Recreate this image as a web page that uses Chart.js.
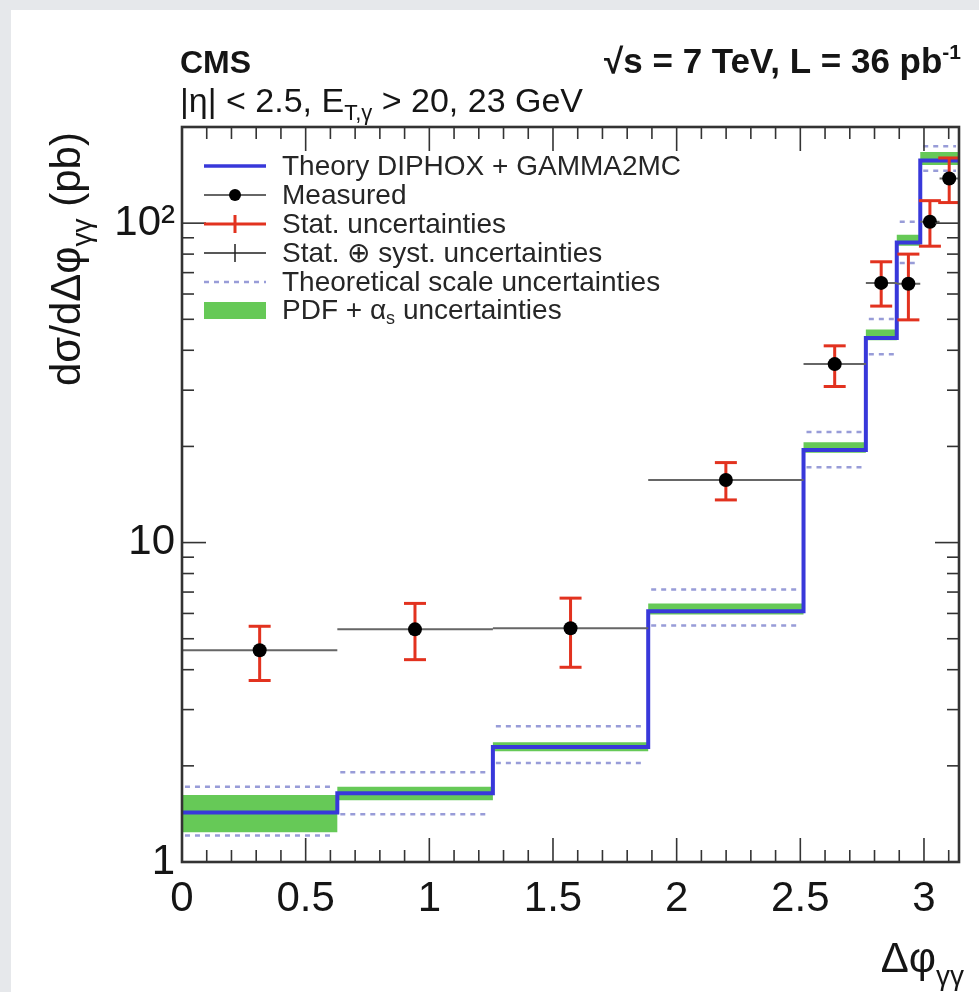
<!DOCTYPE html>
<html><head><meta charset="utf-8">
<script src="https://cdn.jsdelivr.net/npm/chart.js@4.4.1/dist/chart.umd.min.js"></script>
<style>html,body{margin:0;padding:0;background:#e6e8eb;overflow:hidden}#wrap{position:absolute;left:0;top:0;width:979px;height:992px}</style>
</head><body><div id="wrap"><canvas id="c"></canvas></div>
<script>
// ---- data ----
const theoryEdges = [0, 0.628, 1.257, 1.885, 2.513, 2.765, 2.890, 2.985, 3.1416];
const theoryValues = [1.43, 1.64, 2.29, 6.1, 19.5, 43.7, 87, 157];
const pdfLow  = [1.24, 1.56, 2.22, 5.95, 19.1, 43.0, 85, 152];
const pdfHigh = [1.62, 1.72, 2.37, 6.45, 20.6, 46.5, 92, 167];
const scaleLow  = [1.21, 1.41, 2.04, 5.5, 17.2, 38.9, 75, 146];
const scaleHigh = [1.72, 1.91, 2.66, 7.13, 22.2, 50.1, 101, 174];

const measEdges   = [0, 0.628, 1.257, 1.885, 2.513, 2.765, 2.890, 2.985, 3.063, 3.1416];
const measCenters = [0.314, 0.942, 1.571, 2.199, 2.639, 2.827, 2.937, 3.024, 3.102];
const measValues  = [4.6, 5.35, 5.39, 15.7, 36.2, 65, 64.6, 101, 138];
const statLow     = [3.7, 4.3, 4.07, 13.6, 30.8, 55, 49.8, 84.7, 116];
const statHigh    = [5.47, 6.45, 6.7, 17.8, 41.3, 75.7, 80, 117.6, 160];

const xTickValues = [0, 0.5, 1, 1.5, 2, 2.5, 3];
const xTickLabels = ['0', '0.5', '1', '1.5', '2', '2.5', '3'];
const yTickValues = [1, 10, 100];
const yTickLabels = ['1', '10', '10²'];

const legendLabels = ['Theory DIPHOX + GAMMA2MC', 'Measured', 'Stat. uncertainties',
  'Stat. \u2295 syst. uncertainties', 'Theoretical scale uncertainties', 'PDF + \u03b1'];

// ---- styles ----
const BLUE = '#3838da', GREEN = '#66c957', RED = '#e2321f', DASH = '#989cd8', GREY = '#666';
const FONT = '"Liberation Sans", Arial, Helvetica, sans-serif';

function stepData(edges, vals) {
  return edges.map((e, i) => ({ x: e, y: vals[Math.min(i, vals.length - 1)] }));
}
function segData(edges, vals, gap) {
  const d = [];
  vals.forEach((v, i) => { d.push({ x: edges[i] + gap, y: v }, { x: edges[i + 1] - gap, y: v }, { x: edges[i + 1], y: null }); });
  return d;
}
function errData() {
  const d = [];
  measCenters.forEach((x, i) => { d.push({ x, y: statLow[i] }, { x, y: statHigh[i] }, { x, y: null }); });
  return d;
}
function hbarData() {
  const d = [];
  measCenters.forEach((x, i) => { d.push({ x: measEdges[i], y: measValues[i] }, { x: measEdges[i + 1], y: measValues[i] }, { x: measEdges[i + 1], y: null }); });
  return d;
}

function rich(ctx, parts, x, y, align) {
  let w = 0;
  parts.forEach(p => { ctx.font = p.font; p.w = ctx.measureText(p.t).width; w += p.w; });
  let cx = align === 'right' ? x - w : x;
  parts.forEach(p => { ctx.font = p.font; ctx.fillText(p.t, cx, y + (p.dy || 0)); cx += p.w; });
}

const deco = {
  id: 'deco',
  beforeDraw(chart) {
    const ctx = chart.ctx;
    ctx.save();
    ctx.fillStyle = '#e6e8eb'; ctx.fillRect(0, 0, chart.width, chart.height);
    ctx.fillStyle = '#ffffff'; ctx.fillRect(11, 10, chart.width - 11, chart.height - 10);
    ctx.restore();
  },
  afterDatasetsDraw(chart) {
    const ctx = chart.ctx, a = chart.chartArea, xs = chart.scales.x, ys = chart.scales.y;
    ctx.save();
    ctx.strokeStyle = '#333'; ctx.lineWidth = 1.6;
    const line = (x1, y1, x2, y2) => { ctx.beginPath(); ctx.moveTo(x1, y1); ctx.lineTo(x2, y2); ctx.stroke(); };
    for (let k = 0; k <= 31; k++) {
      const px = xs.getPixelForValue(k / 10);
      const L = (k % 5 === 0) ? 24 : 12;
      line(px, a.bottom, px, a.bottom - L);
      line(px, a.top, px, a.top + L);
    }
    [1, 10, 100].forEach(dec => {
      for (let m = 1; m <= 9; m++) {
        const v = dec * m;
        if (v > 200) break;
        const py = ys.getPixelForValue(v);
        const L = m === 1 ? 24 : 12;
        line(a.left, py, a.left + L, py);
        line(a.right, py, a.right - L, py);
      }
    });
    ctx.lineWidth = 2.6;
    ctx.strokeRect(a.left, a.top, a.right - a.left, a.bottom - a.top);
    ctx.restore();
  },
  afterDraw(chart) {
    const ctx = chart.ctx;
    ctx.save();
    ctx.fillStyle = '#151515';
    ctx.textBaseline = 'alphabetic';
    // header
    ctx.font = 'bold 32px ' + FONT;
    ctx.fillText('CMS', 180, 73);
    rich(ctx, [{ t: '\u221As = 7 TeV, L = 36 pb', font: 'bold 35px ' + FONT },
               { t: '-1', font: 'bold 21px ' + FONT, dy: -14 }], 961, 73, 'right');
    rich(ctx, [{ t: '|\u03b7| < 2.5, E', font: '34px ' + FONT },
               { t: 'T,\u03b3', font: '22px ' + FONT, dy: 8 },
               { t: ' > 20, 23 GeV', font: '34px ' + FONT }], 180, 112, 'left');
    // y title
    ctx.save();
    ctx.translate(80, 386); ctx.rotate(-Math.PI / 2);
    rich(ctx, [{ t: 'd\u03c3/d\u0394\u03c6', font: '42px ' + FONT },
               { t: '\u03b3\u03b3', font: '28px ' + FONT, dy: 11 },
               { t: ' (pb)', font: '42px ' + FONT }], 0, 0, 'left');
    ctx.restore();
    // x title
    rich(ctx, [{ t: '\u0394\u03c6', font: '42px ' + FONT },
               { t: '\u03b3\u03b3', font: '28px ' + FONT, dy: 13 }], 964, 972, 'right');

    // legend
    const x1 = 204, x2 = 266, xc = 235, tx = 282;
    const rows = [166, 195, 224, 253, 282, 310];
    ctx.lineCap = 'butt';
    ctx.strokeStyle = BLUE; ctx.lineWidth = 3.5;
    ctx.beginPath(); ctx.moveTo(x1, rows[0]); ctx.lineTo(x2, rows[0]); ctx.stroke();
    ctx.strokeStyle = GREY; ctx.lineWidth = 2;
    ctx.beginPath(); ctx.moveTo(x1, rows[1]); ctx.lineTo(x2, rows[1]); ctx.stroke();
    ctx.fillStyle = '#000'; ctx.beginPath(); ctx.arc(xc, rows[1], 6, 0, Math.PI * 2); ctx.fill();
    ctx.strokeStyle = RED; ctx.lineWidth = 3;
    ctx.beginPath(); ctx.moveTo(x1, rows[2]); ctx.lineTo(x2, rows[2]); ctx.moveTo(xc, rows[2] - 9); ctx.lineTo(xc, rows[2] + 9); ctx.stroke();
    ctx.strokeStyle = '#222'; ctx.lineWidth = 1.5;
    ctx.beginPath(); ctx.moveTo(x1, rows[3]); ctx.lineTo(x2, rows[3]); ctx.moveTo(xc, rows[3] - 9); ctx.lineTo(xc, rows[3] + 9); ctx.stroke();
    ctx.strokeStyle = DASH; ctx.lineWidth = 2.5; ctx.setLineDash([5, 5]);
    ctx.beginPath(); ctx.moveTo(x1, rows[4]); ctx.lineTo(x2, rows[4]); ctx.stroke();
    ctx.setLineDash([]);
    ctx.fillStyle = GREEN; ctx.fillRect(x1, rows[5] - 8, x2 - x1, 17);
    ctx.fillStyle = '#262626'; ctx.textBaseline = 'middle';
    ctx.font = '28px ' + FONT;
    for (let i = 0; i < 5; i++) ctx.fillText(legendLabels[i], tx, rows[i] + 1);
    rich(ctx, [{ t: legendLabels[5], font: '28px ' + FONT },
               { t: 's', font: '18px ' + FONT, dy: 8 },
               { t: ' uncertainties', font: '28px ' + FONT }], tx, rows[5] + 1, 'left');
    ctx.restore();
  }
};

Chart.defaults.font.family = FONT;
Chart.defaults.color = '#151515';

new Chart(document.getElementById('c'), {
  type: 'line',
  data: {
    datasets: [
      { label: 'PDF high', data: stepData(theoryEdges, pdfHigh), stepped: true, borderWidth: 0, pointRadius: 0,
        backgroundColor: GREEN, fill: '+1', order: 6 },
      { label: 'PDF low', data: stepData(theoryEdges, pdfLow), stepped: true, borderWidth: 0, pointRadius: 0,
        fill: false, order: 6 },
      { label: 'Scale high', data: segData(theoryEdges, scaleHigh, 0.012), borderColor: DASH, borderWidth: 2.5,
        borderDash: [5, 5], pointRadius: 0, fill: false, order: 5 },
      { label: 'Scale low', data: segData(theoryEdges, scaleLow, 0.012), borderColor: DASH, borderWidth: 2.5,
        borderDash: [5, 5], pointRadius: 0, fill: false, order: 5 },
      { label: 'Theory', data: stepData(theoryEdges, theoryValues), stepped: true, borderColor: BLUE, borderWidth: 4,
        pointRadius: 0, fill: false, order: 4 },
      { label: 'Bins', data: hbarData(), borderColor: GREY, borderWidth: 2, pointRadius: 0, fill: false, order: 3 },
      { label: 'Stat', data: errData(), borderColor: RED, borderWidth: 3, pointStyle: 'line', pointRadius: 11,
        pointBorderColor: RED, pointBorderWidth: 3, fill: false, order: 2 },
      { label: 'Measured', data: measCenters.map((x, i) => ({ x, y: measValues[i] })), showLine: false,
        pointRadius: 7, pointBackgroundColor: '#000', pointBorderColor: '#000', pointBorderWidth: 0, order: 1 }
    ]
  },
  options: {
    responsive: true, maintainAspectRatio: false, animation: false, events: [],
    layout: { padding: { left: 0, top: 127, right: 20, bottom: 0 } },
    plugins: { legend: { display: false }, tooltip: { enabled: false } },
    scales: {
      x: {
        type: 'linear', min: 0, max: 3.1416,
        grid: { display: false, drawTicks: false }, border: { display: false },
        afterBuildTicks: s => { s.ticks = xTickValues.map(v => ({ value: v })); },
        afterFit: s => { s.height = 130; },
        ticks: { autoSkip: false, maxRotation: 0, padding: 12, font: { size: 42 }, color: '#151515',
          callback: (v, i) => xTickLabels[i] }
      },
      y: {
        type: 'logarithmic', min: 1, max: 200,
        grid: { display: false, drawTicks: false }, border: { display: false },
        afterBuildTicks: s => { s.ticks = yTickValues.map(v => ({ value: v })); },
        afterFit: s => { s.width = 182; },
        ticks: { autoSkip: false, padding: 7, font: { size: 42 }, color: '#151515',
          callback: (v, i) => yTickLabels[i] }
      }
    }
  },
  plugins: [deco]
});
</script>
</body></html>
